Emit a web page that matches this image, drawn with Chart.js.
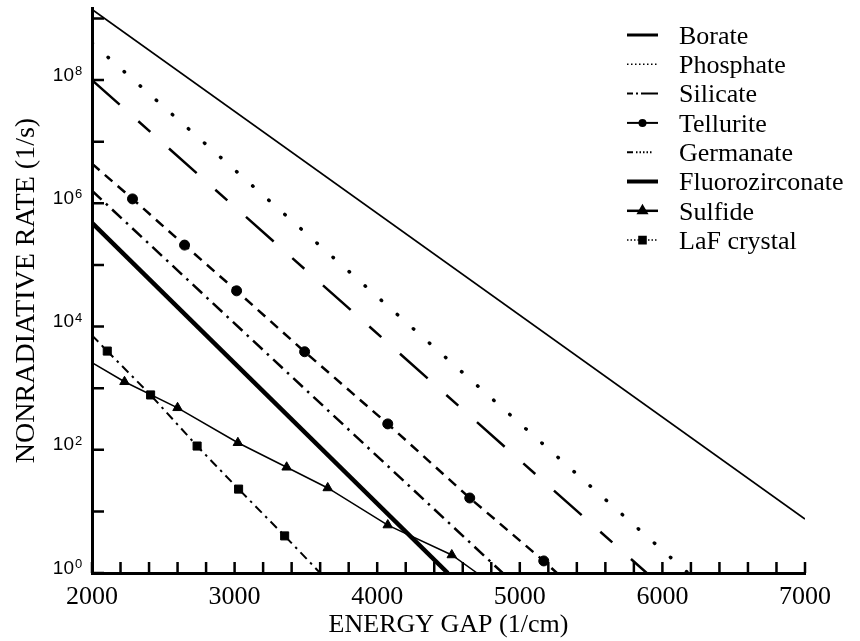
<!DOCTYPE html>
<html>
<head>
<meta charset="utf-8">
<title>Nonradiative rate vs energy gap</title>
<script src="https://cdn.jsdelivr.net/npm/chart.js@4.4.1/dist/chart.umd.min.js"></script>
<style>
  html, body { margin: 0; padding: 0; background: #fff; }
  canvas { display: block; }
</style>
</head>
<body>
<canvas id="chart" width="860" height="641"></canvas>
<script>
// values: energy gap (1/cm) -> nonradiative rate (1/s)
const borateGap = [2000, 7000];
const borateRate = [1.4e9, 7.5];
const phosphateGap = [2000, 6180];
const phosphateRate = [4.0e8, 1];
const silicateGap = [2000, 5890];
const silicateRate = [1.0e8, 1];
const telluriteGap = [2000, 2284, 2649, 3014, 3491, 4074, 4649, 5168, 5260];
const telluriteRate = [4.4e6, 1.18e6, 2.1e5, 3.8e4, 3.9e3, 263, 16.5, 1.57, 1];
const germanateGap = [2000, 4880];
const germanateRate = [1.6e6, 1];
const fluoroGap = [2000, 4495];
const fluoroRate = [4.8e5, 1];
const sulfideGap = [2000, 2228, 2600, 3023, 3365, 3653, 4074, 4523, 4700];
const sulfideRate = [2.6e3, 1.27e3, 480, 130, 52, 24, 6.0, 1.96, 1];
const lafGap = [2000, 2107, 2411, 2737, 3028, 3351, 3600];
const lafRate = [7.2e3, 4.0e3, 776, 115, 23, 4.0, 1];

const xLabelled = [2000, 3000, 4000, 5000, 6000, 7000];
const yDecades = [1, 1e1, 1e2, 1e3, 1e4, 1e5, 1e6, 1e7, 1e8, 1e9];
const yLabelledExp = [0, 2, 4, 6, 8];

const xMinor = [];
for (let v = 2000; v <= 7000; v += 200) xMinor.push(v);

function pts(xs, ys) {
  return xs.map((x, i) => ({x: x, y: ys[i]}));
}
// markers on the inner points only, not on the line ends
function marks(xs, r) {
  return xs.map((_, i) => (i === 0 || i === xs.length - 1) ? 0 : r);
}

const datasets = [
  {label: 'Borate', data: pts(borateGap, borateRate), borderWidth: 1.8, pointRadius: 0,
   legendWidth: 3, legendDash: []},
  {label: 'Phosphate', data: pts(phosphateGap, phosphateRate), borderWidth: 3.5, borderCapStyle: 'round',
   borderDash: [0.5, 21], pointRadius: 0, legendWidth: 1.5, legendDash: [1.5, 2.5]},
  {label: 'Silicate', data: pts(silicateGap, silicateRate), borderWidth: 2.5,
   borderDash: [37, 25, 16, 25], pointRadius: 0, legendWidth: 2, legendDash: [6, 3, 2, 3, 18, 100]},
  {label: 'Tellurite', data: pts(telluriteGap, telluriteRate), borderWidth: 2.5, borderDash: [10, 7],
   pointStyle: 'circle', pointRadius: marks(telluriteGap, 5), legendWidth: 2, legendDash: [], legendPoint: 3},
  {label: 'Germanate', data: pts(germanateGap, germanateRate), borderWidth: 2.5, borderDash: [13, 6, 2.5, 6],
   pointRadius: 0, legendWidth: 2, legendDash: [6, 3, 1.5, 2, 1.5, 2, 1.5, 2, 1.5, 2, 1.5, 20]},
  {label: 'Fluorozirconate', data: pts(fluoroGap, fluoroRate), borderWidth: 4.5, pointRadius: 0,
   legendWidth: 4, legendDash: []},
  {label: 'Sulfide', data: pts(sulfideGap, sulfideRate), borderWidth: 1.5,
   pointStyle: 'triangle', pointRadius: marks(sulfideGap, 5.5), legendWidth: 2.5, legendDash: [], legendPoint: 4.5},
  {label: 'LaF crystal', data: pts(lafGap, lafRate), borderWidth: 2, borderDash: [9, 5, 2.5, 5],
   pointStyle: 'rect', pointRadius: marks(lafGap, 5.7), legendWidth: 1.5, legendDash: [1.5, 2], legendPoint: 5}
];
datasets.forEach(d => {
  d.borderColor = '#000';
  d.backgroundColor = '#000';
  d.pointBackgroundColor = '#000';
  d.pointBorderColor = '#000';
  d.pointBorderWidth = 1;
  d.tension = 0;
  d.fill = false;
});

const sans = '"Liberation Sans", Arial, sans-serif';
const serif = '"Liberation Serif", "Times New Roman", serif';

// inward tick marks and 10^n labels on the log axis
const axisMarks = {
  id: 'axisMarks',
  afterDraw(chart) {
    const ctx = chart.ctx;
    const xs = chart.scales.x, ys = chart.scales.y;
    const area = chart.chartArea;
    ctx.save();
    ctx.strokeStyle = '#000';
    ctx.lineWidth = 2.5;
    ctx.beginPath();
    xMinor.forEach(v => {
      const px = xs.getPixelForValue(v);
      ctx.moveTo(px, area.bottom);
      ctx.lineTo(px, area.bottom - 11);
    });
    yDecades.forEach(v => {
      const py = ys.getPixelForValue(v);
      ctx.moveTo(area.left, py);
      ctx.lineTo(area.left + 12, py);
    });
    ctx.stroke();

    ctx.fillStyle = '#000';
    ctx.textBaseline = 'alphabetic';
    yLabelledExp.forEach(e => {
      const py = ys.getPixelForValue(Math.pow(10, e));
      ctx.font = '19px ' + sans;
      ctx.textAlign = 'right';
      ctx.fillText('10', 74, py + 0.5);
      ctx.font = '13px ' + sans;
      ctx.textAlign = 'left';
      ctx.fillText(String(e), 75, py - 5);
    });
    ctx.restore();
  }
};

const legendKey = {
  id: 'legendKey',
  afterDraw(chart) {
    const ctx = chart.ctx;
    chart.data.datasets.forEach((ds, i) => {
      const y = 35 + i * 29.3;
      ctx.save();
      ctx.strokeStyle = '#000';
      ctx.fillStyle = '#000';
      ctx.lineWidth = ds.legendWidth;
      ctx.setLineDash(ds.legendDash);
      ctx.beginPath();
      ctx.moveTo(627, y);
      ctx.lineTo(658, y);
      ctx.stroke();
      ctx.setLineDash([]);
      if (ds.legendPoint && Chart.helpers && Chart.helpers.drawPoint) {
        Chart.helpers.drawPoint(ctx, {pointStyle: ds.pointStyle, radius: ds.legendPoint, rotation: 0, borderWidth: 1}, 642.5, y);
      }
      ctx.font = '26px ' + serif;
      ctx.textBaseline = 'middle';
      ctx.textAlign = 'left';
      ctx.fillText(ds.label, 679, y + 2);
      ctx.restore();
    });
  }
};

new Chart(document.getElementById('chart'), {
  type: 'line',
  data: {datasets: datasets},
  plugins: [axisMarks, legendKey],
  options: {
    responsive: false,
    animation: false,
    layout: {padding: {top: 8, right: 55, left: 0, bottom: 0}},
    plugins: {legend: {display: false}, tooltip: {enabled: false}},
    scales: {
      x: {
        type: 'linear',
        min: 2000,
        max: 7000,
        afterBuildTicks: s => { s.ticks = xMinor.map(v => ({value: v})); },
        afterFit: s => { s.height = 68; s.paddingLeft = 0; s.paddingRight = 0; },
        grid: {display: false, drawTicks: false},
        border: {display: true, width: 3, color: '#000'},
        ticks: {
          color: '#000',
          padding: 9,
          maxRotation: 0,
          autoSkip: false,
          font: {family: serif, size: 26},
          callback: v => xLabelled.includes(v) ? String(v) : null
        },
        title: {display: true, text: 'ENERGY GAP (1/cm)', color: '#000',
                font: {family: serif, size: 26}, padding: {top: 0, bottom: 0}}
      },
      y: {
        type: 'logarithmic',
        min: 1,
        max: 1.48e9,
        afterBuildTicks: s => { s.ticks = yDecades.map(v => ({value: v})); },
        afterFit: s => { s.width = 92; s.paddingTop = 0; s.paddingBottom = 0; },
        grid: {display: false, drawTicks: false},
        border: {display: true, width: 3, color: '#000'},
        ticks: {display: false},
        title: {display: true, text: 'NONRADIATIVE RATE (1/s)', color: '#000',
                font: {family: serif, size: 28}, padding: {top: 10, bottom: 0}}
      }
    }
  }
});
</script>
</body>
</html>
